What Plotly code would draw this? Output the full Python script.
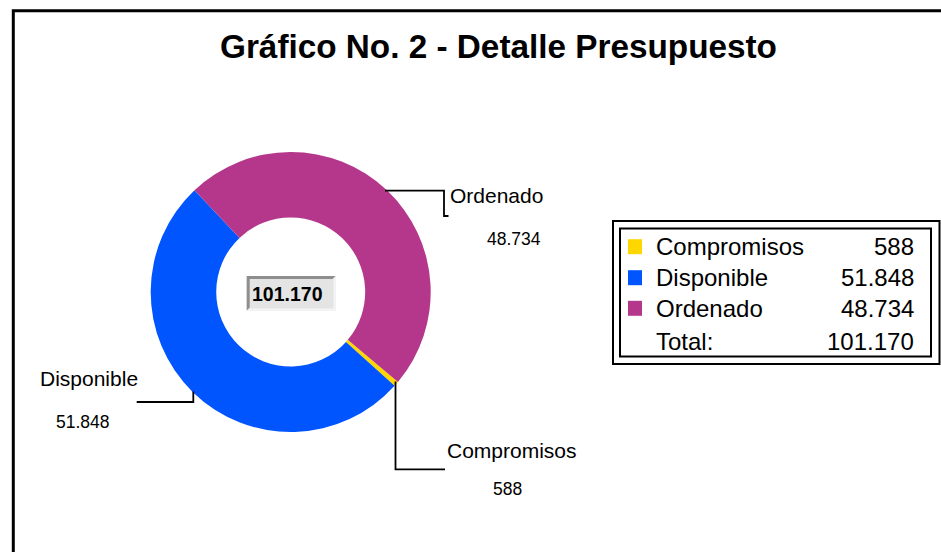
import plotly.graph_objects as go

# ---- data ----
categories = ["Compromisos", "Disponible", "Ordenado"]
values = [588, 51848, 48734]
colors = ["#FFD700", "#0055FF", "#B5378C"]
title_text = "Gráfico No. 2 - Detalle Presupuesto"
total_label = "Total:"

def fmt(n):
    return f"{n:,}".replace(",", ".")

total = sum(values)

OFF = 0
W, H = 941, 552
FONT = "Liberation Sans, Arial, sans-serif"

def px(x):
    return (x - OFF) / W

def py(y):
    return 1 - (y - OFF) / H

# pie geometry (screen pixels)
cx, cy, R = 290.7, 292.0, 140.0

fig = go.Figure()
fig.add_trace(go.Pie(
    labels=categories,
    values=values,
    marker=dict(colors=colors, line=dict(width=0)),
    hole=0.532,
    sort=False,
    direction="clockwise",
    rotation=130,
    textinfo="none",
    textposition="none",
    hoverinfo="label+value",
    showlegend=False,
    domain=dict(x=[px(cx - R), px(cx + R)], y=[py(cy + R), py(cy - R)]),
))

shapes = []
annotations = []

# outer frame
shapes.append(dict(type="rect", xref="paper", yref="paper",
                   x0=px(13.3), x1=px(970), y0=py(590), y1=py(10.7),
                   line=dict(color="black", width=3), fillcolor="rgba(0,0,0,0)", layer="below"))

# title
annotations.append(dict(text=f"<b>{title_text}</b>", xref="paper", yref="paper",
                        x=px(498.5), y=py(46), xanchor="center", yanchor="middle",
                        showarrow=False, font=dict(family=FONT, size=33.3, color="black")))

# leader lines and slice labels
leaders = {
    "Ordenado": [(385, 190.7), (444, 190.7), (444, 216), (448.5, 216)],
    "Disponible": [(193.3, 391.5), (193.3, 402), (136.7, 402)],
    "Compromisos": [(395.5, 381.5), (395.5, 469.3), (445, 469.3)],
}
name_pos = {"Ordenado": (448, 195), "Disponible": (38, 378.5), "Compromisos": (445, 450.5)}
value_pos = {"Ordenado": (514, 239), "Disponible": (83, 421.5), "Compromisos": (507.5, 489.3)}

for cat, v in zip(categories, values):
    pts = leaders[cat]
    path = "M " + " L ".join(f"{px(x)},{py(y)}" for x, y in pts)
    shapes.append(dict(type="path", xref="paper", yref="paper", path=path,
                       line=dict(color="black", width=1.8)))
    nx, ny = name_pos[cat]
    annotations.append(dict(text=cat, xref="paper", yref="paper", x=px(nx), y=py(ny),
                            xanchor="left", yanchor="middle", showarrow=False,
                            font=dict(family=FONT, size=21, color="black")))
    vx, vy = value_pos[cat]
    annotations.append(dict(text=fmt(v), xref="paper", yref="paper", x=px(vx), y=py(vy),
                            xanchor="center", yanchor="middle", showarrow=False,
                            font=dict(family=FONT, size=17.5, color="black")))

# center total box with bevel
bx0, bx1, by0, by1 = 246.7, 335.5, 276.0, 310.5
shapes.append(dict(type="rect", xref="paper", yref="paper", x0=px(bx0), x1=px(bx1),
                   y0=py(by1), y1=py(by0), fillcolor="#E4E4E4", line=dict(width=0)))
# dark top / left bevel
shapes.append(dict(type="path", xref="paper", yref="paper",
                   path=f"M {px(bx0)},{py(by1)} L {px(bx0)},{py(by0)} L {px(bx1)},{py(by0)} "
                        f"L {px(bx1-3)},{py(by0+3)} L {px(bx0+3)},{py(by0+3)} L {px(bx0+3)},{py(by1-3)} Z",
                   fillcolor="#8E8E8E", line=dict(width=0)))
# light bottom / right bevel
shapes.append(dict(type="path", xref="paper", yref="paper",
                   path=f"M {px(bx1)},{py(by0)} L {px(bx1)},{py(by1)} L {px(bx0)},{py(by1)} "
                        f"L {px(bx0+3)},{py(by1-2)} L {px(bx1-2)},{py(by1-2)} L {px(bx1-2)},{py(by0+3)} Z",
                   fillcolor="#F4F4F4", line=dict(width=0)))
annotations.append(dict(text=f"<b>{fmt(total)}</b>", xref="paper", yref="paper",
                        x=px(287.5), y=py(293.5), xanchor="center", yanchor="middle",
                        showarrow=False, font=dict(family=FONT, size=19.5, color="black")))

# custom legend box (double border)
shapes.append(dict(type="rect", xref="paper", yref="paper", x0=px(613), x1=px(939.5),
                   y0=py(364), y1=py(221), line=dict(color="black", width=2), fillcolor="white"))
shapes.append(dict(type="rect", xref="paper", yref="paper", x0=px(620), x1=px(931),
                   y0=py(356.5), y1=py(228.5), line=dict(color="black", width=2),
                   fillcolor="rgba(0,0,0,0)"))
row_y = [246.7, 277.7, 308.3, 341.7]
for i, (cat, v, c) in enumerate(zip(categories, values, colors)):
    y = row_y[i]
    shapes.append(dict(type="rect", xref="paper", yref="paper", x0=px(628), x1=px(642),
                       y0=py(y + 7.5), y1=py(y - 7.5), fillcolor=c, line=dict(width=0)))
    annotations.append(dict(text=cat, xref="paper", yref="paper", x=px(654), y=py(y),
                            xanchor="left", yanchor="middle", showarrow=False,
                            font=dict(family=FONT, size=24, color="black")))
    annotations.append(dict(text=fmt(v), xref="paper", yref="paper", x=px(915.5), y=py(y),
                            xanchor="right", yanchor="middle", showarrow=False,
                            font=dict(family=FONT, size=24, color="black")))
annotations.append(dict(text=total_label, xref="paper", yref="paper", x=px(654), y=py(row_y[3]),
                        xanchor="left", yanchor="middle", showarrow=False,
                        font=dict(family=FONT, size=24, color="black")))
annotations.append(dict(text=fmt(total), xref="paper", yref="paper", x=px(915.5), y=py(row_y[3]),
                        xanchor="right", yanchor="middle", showarrow=False,
                        font=dict(family=FONT, size=24, color="black")))

fig.update_layout(
    width=W, height=H,
    margin=dict(l=0, r=0, t=0, b=0),
    paper_bgcolor="white",
    plot_bgcolor="white",
    shapes=shapes,
    annotations=annotations,
    showlegend=False,
)

fig.write_html("out.html", config={"displayModeBar": False},
               post_script="document.body.style.margin='0';document.body.style.overflow='hidden';")
